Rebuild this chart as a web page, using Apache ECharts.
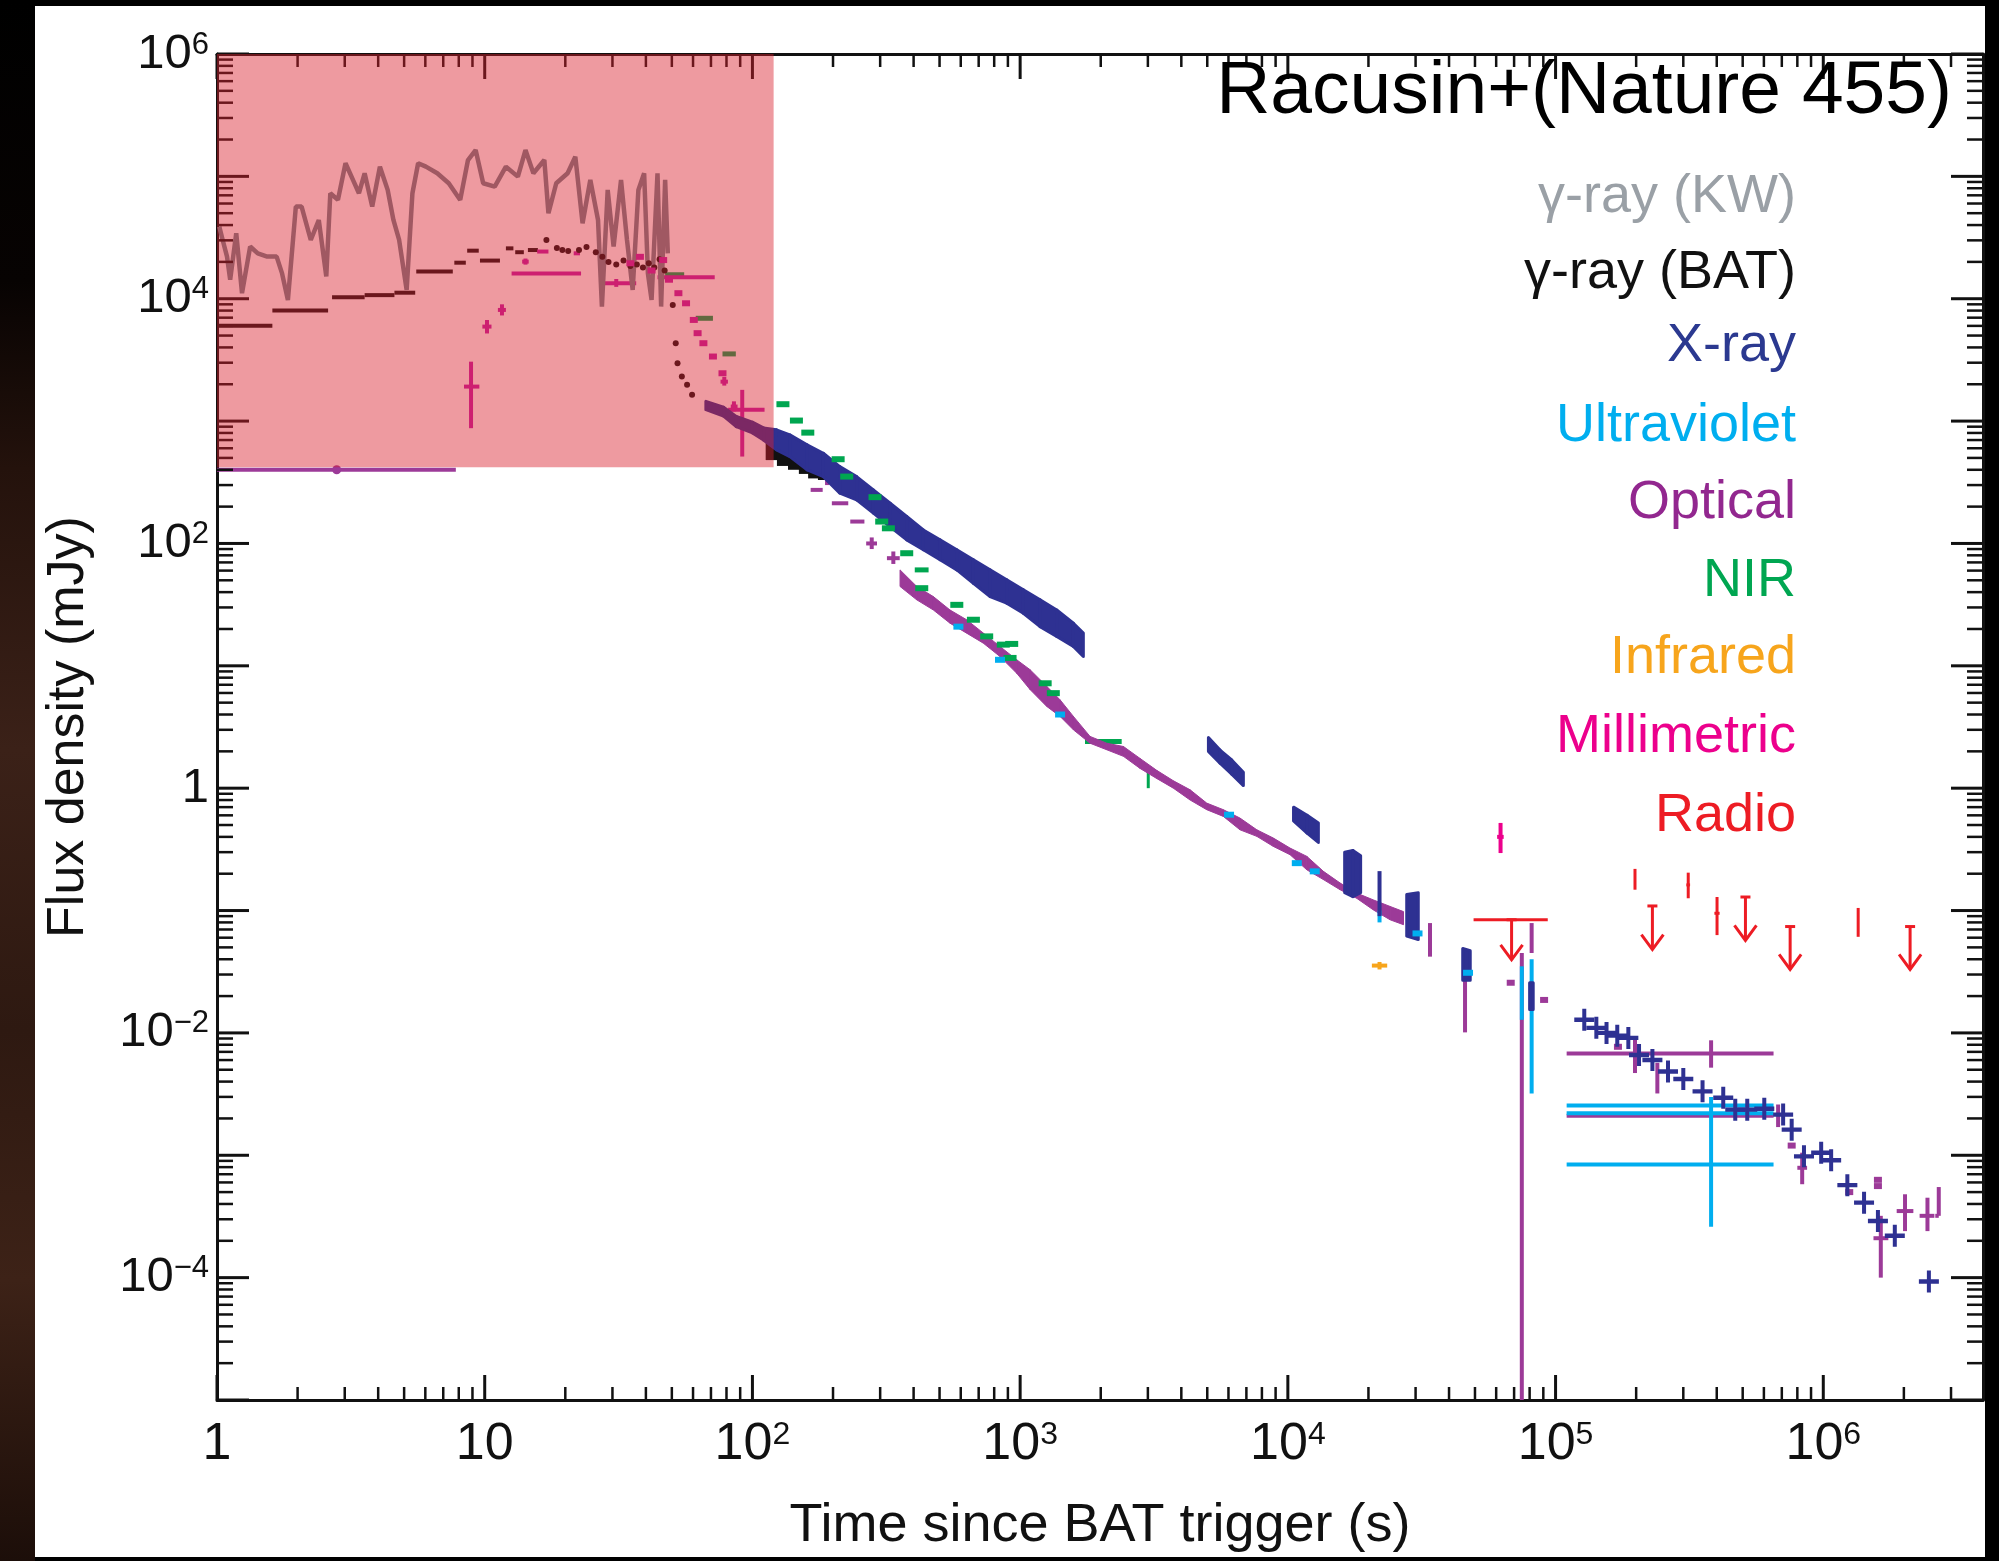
<!DOCTYPE html>
<html><head><meta charset="utf-8">
<script src="https://cdn.jsdelivr.net/npm/echarts@6/dist/echarts.min.js"></script>
<style>
html,body{margin:0;padding:0;background:#000;width:1999px;height:1561px;overflow:hidden;}
#strip{position:absolute;left:0;top:0;width:35px;height:1561px;background:linear-gradient(180deg,#000 0%,#070302 18%,#24120c 30%,#3b2118 48%,#2e1911 66%,#3d2217 82%,#1c0e09 100%);}
#panel{position:absolute;left:35px;top:6px;width:1950px;height:1551px;background:#fff;}
#chart{position:absolute;left:0;top:0;width:1999px;height:1561px;}
</style></head><body>
<div id="strip"></div><div id="panel"></div><div id="chart"></div>
<script>
// ---------------- axes ----------------
const xMin = 1, xMax = 3.95e6, yMin = 1e-5, yMax = 1e6;
const xTickExponents = [0, 1, 2, 3, 4, 5, 6];
const yTickExponents = [-5, -4, -3, -2, -1, 0, 1, 2, 3, 4, 5, 6];
const yLabelExponents = [6, 4, 2, 0, -2, -4];
const minorMultipliers = [2, 3, 4, 5, 6, 7, 8, 9];
const shadeTime = [1, 120];
const shadeFlux = [420, 1e6];

// ---------------- data ----------------
// gamma-ray (Konus-Wind) light curve [t, F]
const kwCurve = [[1.02,38800],[1.05,30200],[1.09,22100],[1.12,14300],[1.18,34300],[1.24,11100],[1.33,26700],[1.42,23500],[1.54,22100],[1.67,22100],[1.75,16100],[1.84,9770],[1.97,56600],[2.07,56600],[2.24,30200],[2.40,44000],[2.56,15200],[2.65,72800],[2.83,64200],[3.02,128000],[3.22,93500],[3.39,72800],[3.56,106000],[3.80,56600],[4.06,120000],[4.34,77500],[4.56,44000],[4.79,30200],[5.11,11800],[5.37,72800],[5.64,128000],[6.03,120000],[6.65,106000],[7.34,87800],[8.10,64200],[8.66,136000],[9.25,164000],[9.87,87800],[10.9,82400],[12.0,120000],[13.3,99500],[14.2,164000],[15.2,106000],[16.7,136000],[17.3,49900],[18.5,87800],[20.4,106000],[21.8,145000],[23.2,41400],[24.8,93500],[26.5,44000],[27.4,8630],[28.8,77500],[30.3,26700],[32.3,93500],[34.0,30200],[35.7,11800],[37.5,77500],[39.4,106000],[40.7,16100],[42.0,9770],[44.2,106000],[45.6,8630],[47.2,93500],[48.3,23500]];
// gamma-ray (BAT) time bins [t1, t2, F]
const batBins = [[1.0,1.61,6000],[1.61,2.6,8000],[2.69,3.56,10300],[3.56,4.6,10700],[4.6,5.5,11200],[5.55,7.6,16700],[7.7,8.5,19700],[8.6,9.5,24700],[9.6,11.4,20500],[12.0,12.8,25800],[13.0,14.0,24000],[14.5,15.8,25000]];
const batDots = [[17.0,30200],[18.6,26000],[19.5,25000],[20.5,24500],[22.5,25000],[24,26500],[26,24000],[27.5,22000],[29,20000],[31,19000],[33,20500],[35,18500],[37,19000],[39,18000],[41,19500],[43,18000],[45,21000],[47,17000],[50.4,8900],[51.7,4330],[52.5,2970],[54.5,2310],[57,1980],[59.5,1640]];
const batLate = [[118,480,800],[130,430,720],[143,400,620],[157,370,540],[170,340,480],[185,330,420]];
// X-ray bands [t, Flow, Fhigh]
const xrayMain = [[67,1240,1450],[78,1100,1300],[87,900,1090],[100,800,980],[110,700,880],[123,582,848],[138,513,771],[160,399,640],[184,352,546],[212,258,425],[245,227,352],[283,177,274],[327,137,213],[377,107,166],[435,88.7,129],[502,73.5,107],[580,60.8,88.7],[669,47.3,73.5],[772,36.8,60.8],[891,32.5,50.5],[1028,26.9,41.8],[1187,20.9,34.6],[1370,17.4,28.6],[1581,14.4,22.3],[1722,11.9,18.5]];
const xraySeg2 = [[5050,2.0,2.6],[5580,1.6,2.05],[6170,1.3,1.7],[6820,1.05,1.35]];
const xraySeg3 = [[10500,0.54,0.70],[11800,0.43,0.60],[13000,0.36,0.52]];
const xraySeg4 = [[16300,0.14,0.30],[17500,0.13,0.31],[18700,0.14,0.28]];
const xraySeg5 = [[27800,0.062,0.135],[30700,0.058,0.14]];
const xraySeg6 = [[45000,0.027,0.049],[48000,0.027,0.047]];
const xraySeg7 = [[80000,0.0155,0.0257],[82500,0.0155,0.0257]];
const xrayBars = [[22000,0.14,22000,22000,0.09,0.21]];
const xrayLate = [[128000,0.0128],[142000,0.011],[155000,0.0100],[170000,0.0095],[187000,0.0091],[205000,0.0066],[230000,0.006],[263000,0.00484],[300000,0.0042],[354000,0.00333],[423000,0.00295],[469000,0.00236],[520000,0.00236],[602000,0.0024],[708000,0.00215],[762000,0.00162],[847000,0.00098],[982000,0.00105],[1070000,0.00091],[1230000,0.00057],[1420000,0.00041],[1600000,0.00029],[1850000,0.00022],[2480000,0.000093]];
// Ultraviolet
const uvDots = [[588,20.9],[841,11.2],[1410,4.0],[6030,0.607],[10800,0.244],[12600,0.209],[30500,0.065],[47100,0.031]];
const uvBars = [[22000,0.09,22000,22000,0.08,0.10],[74800,0.02,74800,74800,0.0128,0.035],[81400,0.012,81400,81400,0.0032,0.04],[381000,0.00255,110000,652000,0.00255,0.00255],[381000,0.0022,110000,652000,0.0022,0.0022],[381000,0.00084,110000,652000,0.00026,0.003]];
// Optical: prompt flash (inside the shaded box)
const optFlash = [[8.89,1914,8.37,9.55,875,3060],[10.2,5920,9.8,10.6,5200,6700],[11.6,8100,11.2,12.0,7300,9000],[14.2,20100,13.8,14.6,19000,21300],[13.0,16100,12.6,22.9,16100,16100],[16.5,24300,15.7,17.3,24300,24300],[22.1,23500,21.5,22.7,23500,23500],[31,13400,26.9,36.8,12500,14500],[55,15000,44.2,72.3,15000,15000],[91.6,1235,81.1,111,513,1800],[78.5,2100,76,81,1950,2300],[85.3,1315,83,88,1200,1450]];
const optFlashDots = [[35,19500],[38,22000],[42,17000],[46.4,20700],[48.8,14300],[52.9,11100],[56.5,9180],[60.4,6710],[62.4,5230],[65.6,4330],[71.2,3370],[77.3,2460]];
const optEarlyLimit = [[2.8,400,1.0,7.8,400,400]];
const optEarlyMark = [[2.8,400]];
const optBars = [[174,274,165,183,274,274],[190,330,190,190,300,360],[212,213,198,228,213,213],[245,151,232,262,151,151],[279,100,266,292,90,112],[336,75.8,318,355,68,86],[33960,0.058,33960,33960,0.042,0.079],[45900,0.02,45900,45900,0.0101,0.049],[74800,0.001,74800,74800,1e-6,0.045],[81400,0.06,81400,81400,0.045,0.079],[381000,0.0068,110000,652000,0.0052,0.0087],[381000,0.0021,110000,652000,0.0021,0.0021],[198000,0.0066,198000,198000,0.0047,0.0093],[240000,0.0043,240000,240000,0.0032,0.0057],[678000,0.0021,678000,678000,0.0017,0.0026],[834000,0.00079,800000,870000,0.00058,0.00105],[1640000,0.00021,1540000,1750000,0.0001,0.00032],[2020000,0.00035,1880000,2170000,0.00024,0.00048],[2450000,0.00032,2290000,2600000,0.00024,0.00045],[2700000,0.00032,2620000,2700000,0.00032,0.00055]];
const optBand = [[356,44.5,60.8],[411,34.6,44.5],[474,28.6,36.8],[547,22.3,28.6],[631,18.5,23.8],[729,15.3,18.5],[841,11.9,14.4],[971,8.7,11.2],[1089,6.4,9.3],[1257,4.66,6.8],[1410,3.86,5.27],[1581,3.0,3.86],[1824,2.33,2.65],[2107,2.06,2.33],[2432,1.82,2.19],[2805,1.45,1.75],[3236,1.2,1.4],[3735,1.0,1.15],[4315,0.80,0.97],[4977,0.667,0.755],[5741,0.588,0.667],[6624,0.457,0.57],[7656,0.404,0.457],[8831,0.334,0.391],[10190,0.286,0.324],[11780,0.215,0.277],[13580,0.179,0.209],[15670,0.148,0.168],[18070,0.126,0.139],[20890,0.101,0.122],[24100,0.084,0.108],[27040,0.0766,0.098]];
const optDots = [[68000,0.0257],[90600,0.0186],[171000,0.0077],[762000,0.0012],[1250000,0.0005],[1600000,0.00056],[1600000,0.00063]];
// NIR
const nirBins = [[47.2,55.6,15700],[61.4,71.2,6920],[77.3,86.7,3540],[404,455,60.8],[1747,2395,2.41]];
const nirDots = [[130,1374],[146,1010],[161,805],[209,488],[225,352],[287,239],[304,151],[322,133],[377,83.2],[429,43.1],[580,31.5],[669,23.8],[750,17.4],[865,14.9],[930,15.1],[917,11.6],[1240,7.2],[1330,5.98]];
const nirBars = [[3010,1.2,3010,3010,1.0,1.37]];
// Infrared
const irBars = [[22000,0.0355,20600,23500,0.033,0.038]];
// Millimetric
const mmBars = [[62300,0.40,60500,64000,0.295,0.52]];
// Radio
const radioLimits = [[230000,0.109,0.048],[512000,0.129,0.057],[752000,0.074,0.033],[2110000,0.074,0.033],[68500,0.0841,0.0396]];
const radioBars = [[198000,0.18,198000,198000,0.148,0.219],[313000,0.162,308000,318000,0.126,0.204],[401000,0.095,392000,410000,0.063,0.129],[1350000,0.08,1350000,1350000,0.061,0.105],[68500,0.0841,49400,93500,0.0841,0.0841]];

const legendNames = ['γ-ray (KW)','γ-ray (BAT)','X-ray','Ultraviolet','Optical','NIR','Infrared','Millimetric','Radio'];
const legendColors = ['#9aa0a6','#111111','#2b3990','#00aeef','#92278f','#00a651','#f7a51c','#ec008c','#ed1c24'];

// ---------------- styles ----------------
const C = {kw:'#72878f', bat:'#111111', xray:'#2e3192', uv:'#00aeef', opt:'#9c3a98', flash:'#c420a8', nir:'#00a650', ir:'#f7a51c', mm:'#ec008c', radio:'#ed1c24'};
const PLUS = 'path://M8,0h4v8h8v4h-8v8h-4v-8h-8v-4h8z';
const FONT = '"Liberation Sans", Arial, Helvetica, sans-serif';

function seg(a, b, color, w) {
  return {type:'line', shape:{x1:a[0], y1:a[1], x2:b[0], y2:b[1]}, style:{stroke:color, lineWidth:w}};
}
function errSeries(data, color, w, z) {
  return {type:'custom', data, z: z || 2, clip:true, silent:true, encode:{x:0, y:1},
    dimensions:['t','f','t1','t2','f1','f2'],
    renderItem(params, api) {
      const t=api.value(0), f=api.value(1), t1=api.value(2), t2=api.value(3), f1=api.value(4), f2=api.value(5);
      const ch = [];
      const a = api.coord([t1,f]), b = api.coord([t2,f]);
      if (Math.abs(b[0]-a[0]) > 0.5) ch.push(seg(a,b,color,w));
      const c = api.coord([t,f1]), d = api.coord([t,f2]);
      if (Math.abs(d[1]-c[1]) > 0.5) ch.push(seg(c,d,color,w));
      return {type:'group', children:ch};
    }};
}
function binSeries(data, color, w) {
  return {type:'custom', data, clip:true, silent:true, encode:{x:0, y:2}, dimensions:['t1','t2','f'],
    renderItem(params, api) {
      const a = api.coord([api.value(0), api.value(2)]), b = api.coord([api.value(1), api.value(2)]);
      return seg(a, b, color, w);
    }};
}
function bandSeries(data, color, sw) {
  return {type:'custom', data, clip:true, silent:true, encode:{x:0, y:1}, dimensions:['t','lo','hi'],
    renderItem(params, api) {
      const i = params.dataIndex, cur = data[i], nx = data[i+1];
      if (!nx) return null;
      const pts = [api.coord([cur[0],cur[2]]), api.coord([nx[0],nx[2]]), api.coord([nx[0],nx[1]]), api.coord([cur[0],cur[1]])];
      return {type:'polygon', shape:{points:pts}, style:{fill:color, stroke:color, lineWidth:sw, lineJoin:'round'}};
    }};
}
function arrowSeries(data, color) {
  return {type:'custom', data, clip:true, silent:true, encode:{x:0, y:1}, dimensions:['t','f','tip'],
    renderItem(params, api) {
      const t=api.value(0), a=api.coord([t, api.value(1)]), b=api.coord([t, api.value(2)]);
      return {type:'group', children:[
        seg([a[0]-5,a[1]],[a[0]+5,a[1]],color,3),
        seg(a,b,color,3),
        {type:'polyline', shape:{points:[[b[0]-11,b[1]-15],[b[0],b[1]],[b[0]+11,b[1]-15]]}, style:{stroke:color, lineWidth:3, fill:'none'}}
      ]};
    }};
}
function scatterSeries(data, color, symbol, size, z) {
  return {type:'scatter', data, symbol, symbolSize:size, itemStyle:{color, opacity:1}, z: z || 2, silent:true, clip:true};
}
function xTicks(vals, len, w) {
  return {type:'custom', data: vals.map(v => [v, 1]), silent:true, clip:false, z:5, encode:{x:0, y:1},
    renderItem(params, api) {
      const cs = params.coordSys, x = api.coord([api.value(0), 1])[0];
      return {type:'group', children:[seg([x,cs.y+cs.height],[x,cs.y+cs.height-len],'#111',w), seg([x,cs.y],[x,cs.y+len],'#111',w)]};
    }};
}
function yTicks(vals, len, w) {
  return {type:'custom', data: vals.map(v => [1, v]), silent:true, clip:false, z:5, encode:{x:0, y:1},
    renderItem(params, api) {
      const cs = params.coordSys, y = api.coord([1, api.value(1)])[1];
      return {type:'group', children:[seg([cs.x,y],[cs.x+len,y],'#111',w), seg([cs.x+cs.width,y],[cs.x+cs.width-len,y],'#111',w)]};
    }};
}

const xMajor = xTickExponents.map(e => Math.pow(10, e));
const xMinor = [];
xTickExponents.forEach(e => minorMultipliers.forEach(m => { const v = m * Math.pow(10, e); if (v < xMax) xMinor.push(v); }));
const yMajor = yTickExponents.map(e => Math.pow(10, e));
const yMinor = [];
yTickExponents.forEach(e => minorMultipliers.forEach(m => { const v = m * Math.pow(10, e); if (v < yMax) yMinor.push(v); }));

function expOf(v) { const l = Math.log10(v), e = Math.round(l); return Math.abs(l - e) < 1e-6 ? e : null; }
function fmtX(v) {
  const e = expOf(v);
  if (e === null || xTickExponents.indexOf(e) < 0) return '';
  if (e === 0) return '{n|1}';
  if (e === 1) return '{n|10}';
  return '{n|10}{e|' + e + '}';
}
function fmtY(v) {
  const e = expOf(v);
  if (e === null || yLabelExponents.indexOf(e) < 0) return '';
  if (e === 0) return '{n|1}';
  return '{n|10}{e|' + String(e).replace('-', '\u2212') + '}';
}

const chart = echarts.init(document.getElementById('chart'), null, {renderer:'canvas'});
const axisLine = {show:true, onZero:false, lineStyle:{color:'#111', width:3}};
chart.setOption({
  backgroundColor:'transparent',
  animation:false,
  textStyle:{fontFamily:FONT},
  grid:{left:217, top:54, right:16, bottom:161, containLabel:false, outerBoundsMode:'none'},
  xAxis:[{
    type:'log', logBase:10, min:xMin, max:xMax, position:'bottom',
    axisLine, axisTick:{show:false}, minorTick:{show:false}, splitLine:{show:false},
    axisLabel:{show:true, margin:19, customValues:xMajor, showMinLabel:true, showMaxLabel:true, formatter:fmtX,
      rich:{n:{fontSize:52, lineHeight:52, color:'#111', fontFamily:FONT}, e:{fontSize:32, lineHeight:32, verticalAlign:'top', color:'#111', fontFamily:FONT}}},
    name:'Time since BAT trigger (s)', nameLocation:'middle', nameGap:99,
    nameTextStyle:{fontSize:54, color:'#111', fontFamily:FONT}
  },{
    type:'log', logBase:10, min:xMin, max:xMax, position:'top',
    axisLine, axisTick:{show:false}, axisLabel:{show:false}, splitLine:{show:false}
  }],
  yAxis:[{
    type:'log', logBase:10, min:yMin, max:yMax, position:'left',
    axisLine, axisTick:{show:false}, minorTick:{show:false}, splitLine:{show:false},
    axisLabel:{show:true, margin:8, customValues:yLabelExponents.map(e => Math.pow(10, e)), showMinLabel:true, showMaxLabel:true, formatter:fmtY,
      rich:{n:{fontSize:49, lineHeight:49, color:'#111', fontFamily:FONT}, e:{fontSize:31, lineHeight:31, verticalAlign:'top', color:'#111', fontFamily:FONT}}},
    name:'Flux density (mJy)', nameLocation:'middle', nameGap:122, nameRotate:90,
    nameTextStyle:{fontSize:52, color:'#111', fontFamily:FONT}
  },{
    type:'log', logBase:10, min:yMin, max:yMax, position:'right',
    axisLine, axisTick:{show:false}, axisLabel:{show:false}, splitLine:{show:false}
  }],
  graphic: legendNames.map((name, i) => ({
    type:'text', x:1796, y:[197,273,346,426,503,581,658,737,816][i], z:100, silent:true,
    style:{text:name, fill:legendColors[i], font:'54px ' + FONT, textAlign:'right', align:'right', textVerticalAlign:'middle', verticalAlign:'middle'}
  })).concat([{
    type:'text', x:1952, y:92, z:100, silent:true,
    style:{text:'Racusin+(Nature 455)', fill:'#000', font:'75px ' + FONT, textAlign:'right', align:'right', textVerticalAlign:'middle', verticalAlign:'middle'}
  }]),
  series:[
    {type:'line', data:kwCurve, symbol:'none', lineStyle:{color:C.kw, width:4.5}, silent:true, z:2},
    binSeries(batBins, C.bat, 4),
    scatterSeries(batDots, C.bat, 'circle', 6),
    binSeries(nirBins, C.nir, 5),
    scatterSeries(nirDots, C.nir, 'rect', [13, 6]),
    errSeries(nirBars, C.nir, 3),
    errSeries(optFlash, C.flash, 4),
    scatterSeries(optFlashDots, C.flash, 'rect', [8, 6]),
    errSeries(optEarlyLimit, C.opt, 4),
    scatterSeries(optEarlyMark, C.opt, 'circle', 9),
    errSeries(irBars, C.ir, 4),
    {type:'custom', data:batLate, clip:true, silent:true, encode:{x:0, y:1}, dimensions:['t','lo','hi'],
      renderItem(params, api) {
        const a = api.coord([api.value(0), api.value(1)]), b = api.coord([api.value(0), api.value(2)]);
        return seg(a, b, C.bat, 12);
      }},
    bandSeries(optBand, C.opt, 1),
    errSeries(optBars, C.opt, 4),
    scatterSeries(optDots, C.opt, 'rect', [8, 6]),
    scatterSeries(uvDots, C.uv, 'rect', [10, 6]),
    errSeries(uvBars, C.uv, 4),
    bandSeries(xrayMain, C.xray, 3),
    bandSeries(xraySeg2, C.xray, 3),
    bandSeries(xraySeg3, C.xray, 3),
    bandSeries(xraySeg4, C.xray, 3),
    bandSeries(xraySeg5, C.xray, 3),
    bandSeries(xraySeg6, C.xray, 3),
    bandSeries(xraySeg7, C.xray, 3),
    errSeries(xrayBars, C.xray, 4),
    scatterSeries(xrayLate, C.xray, PLUS, [20, 22], 3),
    errSeries(mmBars, C.mm, 4),
    errSeries(radioBars, C.radio, 3),
    arrowSeries(radioLimits, C.radio),
    xTicks(xMajor, 25, 3),
    xTicks(xMinor, 13, 2.5),
    yTicks(yMajor, 32, 3),
    yTicks(yMinor, 16, 2.5),
    {type:'custom', data:[[shadeTime[0], shadeFlux[0], shadeTime[1], shadeFlux[1]]], z:10, silent:true, clip:false,
      encode:{x:0, y:1}, dimensions:['t0','f0','t1','f1'],
      renderItem(params, api) {
        const a = api.coord([api.value(0), api.value(3)]), b = api.coord([api.value(2), api.value(1)]);
        return {type:'rect', shape:{x:a[0], y:a[1], width:b[0]-a[0], height:b[1]-a[1]}, style:{fill:'rgba(217,31,44,0.45)'}};
      }}
  ]
});
</script></body></html>
